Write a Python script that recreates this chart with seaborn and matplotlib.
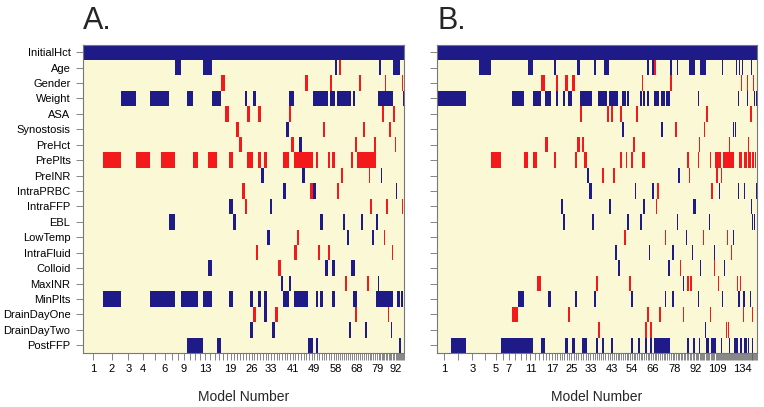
import numpy as np
import matplotlib
matplotlib.use("Agg")
import matplotlib.pyplot as plt
import seaborn as sns
from matplotlib.colors import ListedColormap

variables = ["InitialHct", "Age", "Gender", "Weight", "ASA", "Synostosis", "PreHct",
             "PrePlts", "PreINR", "IntraPRBC", "IntraFFP", "EBL", "LowTemp",
             "IntraFluid", "Colloid", "MaxINR", "MinPlts", "DrainDayOne",
             "DrainDayTwo", "PostFFP"]

# relative posterior probability of each model (column width), panel A
weight_a = [20, 18, 15, 14, 11, 8, 6, 6, 6, 6,
            5, 5, 5, 4.5, 4.5, 4, 4, 4, 4, 3,
            3, 2.9, 2.9, 2.8, 2.8, 2.8, 2.8, 2.8, 2.8, 2.8,
            2.8, 2.8, 2.8, 2.7, 2.7, 2.7, 2.7, 2.7, 2.7, 2.7,
            2.7, 2.7, 2.7, 2.7, 2.7, 2.7, 2.7, 2.7, 2.7, 2.4,
            2.4, 2.4, 2.4, 2.4, 2.4, 2.4, 2.4, 2.4, 2.0, 2.0,
            2.0, 2.0, 2.0, 2.0, 2.0, 2.0, 2.0, 2.0, 1.9, 1.9,
            1.9, 1.9, 1.9, 1.9, 1.9, 1.9, 1.9, 1.9, 1.9, 1.4,
            1.4, 1.4, 1.4, 1.4, 1.4, 1.4, 1.4, 1.4, 1.4, 1.4,
            1.4, 1.4, 1.2, 1.1, 1.0, 1.0, 0.9, 0.9, 0.9, 0.8]

# panel B
weight_b = [14, 15, 13, 12, 10, 5, 6, 6, 6, 4,
            5, 4, 4, 4, 3, 3, 3, 2.3, 2.3, 2.3,
            2.3, 2.3, 2.3, 2.3, 2.3, 2.4, 2.4, 2.4, 2.4, 2.4,
            2.4, 2.4, 2.4, 2.15, 2.15, 2.15, 2.15, 2.15, 2.15, 2.15,
            2.15, 2.15, 2.15, 1.8, 1.8, 1.8, 1.8, 1.8, 1.8, 1.8,
            1.8, 1.8, 1.8, 1.8, 1.75, 1.75, 1.75, 1.75, 1.75, 1.75,
            1.75, 1.75, 1.75, 1.75, 1.75, 1.75, 1.8, 1.8, 1.8, 1.8,
            1.8, 1.8, 1.8, 1.8, 1.8, 1.8, 1.8, 1.8, 1.5, 1.5,
            1.5, 1.5, 1.5, 1.5, 1.5, 1.5, 1.5, 1.5, 1.5, 1.5,
            1.5, 1.5, 1.25, 1.25, 1.25, 1.25, 1.25, 1.25, 1.25, 1.25,
            1.25, 1.25, 1.25, 1.25, 1.25, 1.25, 1.25, 1.25, 1.25, 1.0,
            1.0, 1.0, 1.0, 1.0, 1.0, 1.0, 1.0, 1.0, 1.0, 1.0,
            1.0, 1.0, 1.0, 1.0, 1.0, 1.0, 1.0, 1.0, 1.0, 1.0,
            1.0, 1.0, 1.0, 1.0, 1.0, 1.0, 1.0, 0.95, 0.95, 0.95,
            0.9, 0.9, 0.9, 0.9, 0.85, 0.85, 0.85, 0.8, 0.8, 0.8]

# models (1-based) where a variable enters with a positive / negative sign
pos_a = {
    "InitialHct": list(range(1, 101)),
    "Age": [8, 13, 14, 58, 81, 91, 92, 93, 94, 95, 96],
    "Weight": [3, 5, 6, 10, 15, 16, 24, 27, 40, 41, 49, 50, 51, 52, 53, 54, 56, 57,
               59, 60, 61, 62, 63, 64, 65, 67, 80, 81, 82, 83, 84, 85, 86, 87, 88,
               89, 90, 100],
    "Synostosis": [39],
    "PreHct": [44],
    "PreINR": [30, 45, 82],
    "IntraPRBC": [38, 49, 93],
    "IntraFFP": [19, 33],
    "EBL": [7, 20, 52, 62, 71, 79],
    "LowTemp": [32, 64, 77],
    "Colloid": [14, 54, 57, 66, 67],
    "MaxINR": [37, 40, 80],
    "MinPlts": [2, 5, 6, 7, 9, 10, 11, 13, 14, 19, 26, 29, 31, 38, 39, 42, 43, 44,
                45, 46, 50, 52, 57, 67, 68, 79, 80, 81, 82, 83, 84, 85, 86, 87, 88,
                89, 90, 94, 95, 98, 99],
    "DrainDayOne": [31],
    "DrainDayTwo": [26, 34, 65, 73, 89],
    "PostFFP": [10, 11, 12, 16, 47, 48, 50, 95, 97],
}
neg_a = {
    "Age": [60],
    "Gender": [17, 46, 56, 70, 85, 99],
    "ASA": [18, 25, 29, 40, 83, 91],
    "Synostosis": [21, 53, 72, 88],
    "PreHct": [22, 41, 68, 78, 92, 96],
    "PrePlts": [2, 4, 6, 7, 11, 14, 15, 19, 25, 26, 29, 31, 38, 39, 42, 43, 44, 45,
                46, 47, 48, 50, 55, 57, 66, 69, 70, 71, 72, 73, 74, 75, 76, 77, 78],
    "PreINR": [61, 75],
    "IntraPRBC": [23, 48, 59],
    "IntraFFP": [24, 76, 86, 99],
    "LowTemp": [43, 84],
    "IntraFluid": [28, 42, 51, 55, 90],
    "Colloid": [36],
    "MaxINR": [63, 74],
    "DrainDayOne": [27, 35, 68, 87],
}

pos_b = {
    "InitialHct": list(range(1, 151)),
    "Age": [4, 11, 18, 28, 35, 40, 41, 63, 66, 76, 80, 88, 89, 90, 91, 96, 97, 98,
            99, 100, 114, 128, 131, 134, 140, 144],
    "Weight": [1, 2, 8, 9, 12, 13, 15, 16, 19, 22, 24, 25, 29, 30, 31, 32, 33, 37,
               38, 39, 40, 42, 43, 44, 45, 46, 49, 50, 52, 59, 61, 63, 67, 68, 69,
               71, 72, 74, 75, 94, 130, 139, 147, 148, 150],
    "Synostosis": [49, 71, 125, 127],
    "PreINR": [32, 81],
    "IntraPRBC": [33, 56, 66, 111, 130, 136, 150],
    "IntraFFP": [21, 42, 61, 91, 92, 144],
    "EBL": [22, 34, 52, 59, 80, 103, 145, 147],
    "LowTemp": [86, 125],
    "IntraFluid": [45, 64, 77, 90, 107],
    "Colloid": [47, 75, 96, 116],
    "MaxINR": [84],
    "MinPlts": [9, 16, 27, 35, 54, 73, 77, 94, 114, 130, 131, 135, 136, 143],
    "DrainDayTwo": [100],
    "PostFFP": [2, 6, 7, 8, 9, 10, 11, 14, 23, 26, 30, 31, 36, 39, 43, 54, 58, 62,
                65, 67, 68, 69, 70, 71, 72, 73, 74, 75, 87, 91, 95, 101, 102, 105,
                106, 107, 108, 113, 121, 126, 127, 128, 129, 132, 133, 136, 137,
                138, 140, 141, 145],
}
neg_b = {
    "Age": [67],
    "Gender": [14, 19, 23, 26, 60, 76, 133, 139, 146],
    "ASA": [29, 41, 43, 48, 57, 101, 140, 143, 144],
    "Synostosis": [79, 99],
    "PreHct": [15, 28, 30, 55, 95, 121, 141],
    "PrePlts": [5, 10, 12, 18, 27, 31, 48, 51, 54, 60, 61, 87, 94, 104, 108, 109,
                110, 111, 112, 115, 116, 117, 118, 119, 120, 121, 122, 123, 124,
                125, 131, 132, 133, 136, 137, 138, 140, 141, 142, 143, 145, 146,
                148, 149],
    "PreINR": [39, 44, 88, 109, 113, 148],
    "IntraPRBC": [69, 105],
    "IntraFFP": [68],
    "LowTemp": [50, 73, 98, 119],
    "IntraFluid": [123],
    "Colloid": [82, 107],
    "MaxINR": [13, 36, 53, 87, 89, 110, 129, 132],
    "DrainDayOne": [8, 24, 63, 70, 84, 104, 135, 145],
    "DrainDayTwo": [37, 62, 65, 118, 120],
}

shown_a = [1, 2, 3, 4, 6, 9, 13, 19, 26, 33, 41, 49, 58, 68, 79, 92]
shown_b = [1, 3, 5, 7, 11, 17, 25, 33, 43, 54, 66, 78, 92, 109, 134]

RED = "#F21A1A"
BLUE = "#1E1A88"
CREAM = "#FAF8D5"
NCOL = 3000


def inclusion(n_models, pos, neg):
    mat = np.zeros((len(variables), n_models))
    for var, models in pos.items():
        mat[variables.index(var), np.asarray(models) - 1] = 1
    for var, models in neg.items():
        mat[variables.index(var), np.asarray(models) - 1] = -1
    return mat


def draw(ax, weights, pos, neg, shown, show_names):
    w = np.asarray(weights, float)
    edges = np.concatenate([[0], np.cumsum(w)]) / w.sum()
    mat = inclusion(len(w), pos, neg)
    # spread each model over a share of columns equal to its probability
    centers = (np.arange(NCOL) + 0.5) / NCOL
    idx = np.clip(np.searchsorted(edges, centers, side="right") - 1, 0, len(w) - 1)
    grid = mat[:, idx]
    sns.heatmap(grid, ax=ax, cmap=ListedColormap([RED, CREAM, BLUE]),
                vmin=-1.5, vmax=1.5, cbar=False,
                xticklabels=False, yticklabels=False, rasterized=True)

    mids = (edges[:-1] + edges[1:]) / 2 * NCOL
    ax.set_xticks(mids)
    ax.set_xticklabels([str(i + 1) if (i + 1) in shown else ""
                        for i in range(len(w))], rotation=0)
    ax.set_yticks(np.arange(len(variables)) + 0.5)
    ax.set_yticklabels(variables if show_names else [""] * len(variables),
                       rotation=0)
    for s in ax.spines.values():
        s.set_visible(True)
        s.set_color("#777777")
        s.set_linewidth(0.8)
    ax.tick_params(axis="both", bottom=True, left=True, length=5, width=0.5,
                   color="#555555", labelsize=8, labelcolor="black")
    ax.tick_params(axis="x", pad=3)
    ax.tick_params(axis="y", pad=4)


sns.set_style("white")
plt.rcParams["font.family"] = ["Liberation Sans", "DejaVu Sans"]

fig = plt.figure(figsize=(7.64, 4.07), dpi=100)
ax_a = fig.add_axes([83 / 764, 54 / 407, 321 / 764, 308.5 / 407])
ax_b = fig.add_axes([437 / 764, 54 / 407, 320 / 764, 308.5 / 407])

draw(ax_a, weight_a, pos_a, neg_a, shown_a, True)
draw(ax_b, weight_b, pos_b, neg_b, shown_b, False)

fig.text(83 / 764, 1 - 29 / 407, "A.", fontsize=22, va="baseline", ha="left")
fig.text(437 / 764, 1 - 29 / 407, "B.", fontsize=22, va="baseline", ha="left")
fig.text(243.5 / 764, 1 - 397 / 407, "Model Number", fontsize=10,
         ha="center", va="center")
fig.text(597 / 764, 1 - 397 / 407, "Model Number", fontsize=10,
         ha="center", va="center")

fig.savefig("out.png", dpi=100)
